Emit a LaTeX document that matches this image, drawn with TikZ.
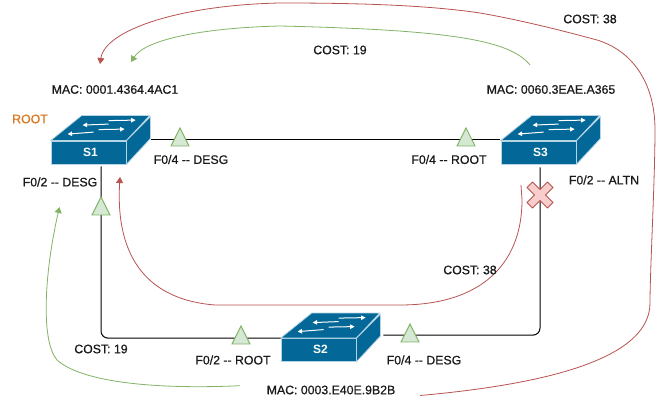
\documentclass[tikz,border=0pt]{standalone}
\usepackage{fontspec}
\setmainfont{Liberation Sans}
\newfontfamily\lblfont[FakeBold=0.6,Ligatures=NoCommon]{Liberation Sans}
\usetikzlibrary{arrows.meta,calc,shapes.geometric}
\definecolor{swblue}{HTML}{036897}
\definecolor{swline}{HTML}{B5D5E5}
\definecolor{gfill}{HTML}{D5E8D4}
\definecolor{gline}{HTML}{82B366}
\definecolor{rfill}{HTML}{F8CECC}
\definecolor{rline}{HTML}{B85450}
\definecolor{rootc}{HTML}{D9761E}
\tikzset{
  x=1pt,y=-1pt,
  lbl/.style={font=\lblfont\fontsize{12.3}{14}\selectfont,text=black!90,inner sep=0pt,anchor=center},
  front/.style={draw=swline,fill=swblue,line width=.8pt,minimum width=75pt,minimum height=23pt,inner sep=0pt,text=white,font=\fontsize{12}{14}\bfseries\selectfont},
  swshape/.style={draw=swline,fill=swblue,line width=.8pt,line join=round},
  wire/.style={draw=black,line width=1pt,rounded corners=7pt},
  tri/.style={draw=gline,fill=gfill,line width=.9pt,isosceles triangle,isosceles triangle stretches,shape border rotate=90,minimum width=18pt,minimum height=18pt,inner sep=0pt,outer sep=0pt,anchor=apex},
  rcurve/.style={draw=rline,line width=.8pt,-{Triangle[length=6pt,width=7pt]}},
  gcurve/.style={draw=gline,line width=.8pt,-{Triangle[length=6pt,width=7pt]}},
  arrowm/.style={draw=white,line width=1pt,-{Triangle[length=4.5pt,width=4.5pt]}}
}
\newcommand{\swdraw}[4]{% name, centre x, centre y, label
  \node[front] (#1) at (#2,#3) {\raisebox{.7pt}{\hspace*{4pt}#4}};
  \path[swshape] (#1.north west) -- ++(31,-25) -- ++(68,0) -- (#1.north east) -- cycle;
  \path[swshape] (#1.north east) -- ++(24,-24) -- ++(0,22) -- (#1.south east) -- cycle;
  \draw[arrowm] ($(#1.north west)+(58,-20)$) -- ++(27,-.5);
  \draw[arrowm] ($(#1.north west)+(58,-16.5)$) -- ++(-26,1);
  \draw[arrowm] ($(#1.north west)+(48,-11)$) -- ++(26,-.5);
  \draw[arrowm] ($(#1.north west)+(43,-8.5)$) -- ++(-26,2);
}
\newcommand{\dd}{{-}{-}}
\begin{document}
\begin{tikzpicture}
\useasboundingbox (0,0) rectangle (657,406);
\fill[white] (0,0) rectangle (657,406);
% switches
\swdraw{S1}{88.5}{152.5}{S1}
\swdraw{S3}{538.5}{152.5}{S3}
\swdraw{S2}{318.5}{350}{S2}
% connector ends
\coordinate (S1r) at ($(S1.north east)+(25,-1)$);
\coordinate (S3l) at ($(S3.north west)+(-1,-1)$);
\coordinate (S1b) at ($(S1.south)+(12.5,2)$);
\coordinate (S3b) at ($(S3.south)+(1.5,3)$);
\coordinate (S2l) at (S2.north west);
\coordinate (S2r) at ($(S2.north east)+(27,-3)$);
% wires
\draw[wire] (S1r) -- (S3l);
\draw[wire] (S1b) |- (S2l);
\draw[wire] (S3b) |- (S2r);
% triangles
\node[tri] (t1) at (180,128) {};
\node[tri] (t2) at (466,128) {};
\node[tri] (t3) at (101,197) {};
\node[tri] (t4) at (241,326) {};
\node[tri] (t5) at (410,324) {};
% cross
\path[draw=rline,fill=rfill,line width=.8pt,line join=round,shift={(540,195)}]
  (0,-5.5) -- (7.5,-13) -- (13,-7.5) -- (5.5,0) -- (13,7.5) -- (7.5,13) -- (0,5.5)
  -- (-7.5,13) -- (-13,7.5) -- (-5.5,0) -- (-13,-7.5) -- (-7.5,-13) -- cycle;
% curves
\coordinate (rA) at (420,395.5);
\coordinate (rB) at (100,64);
\draw[rcurve] (rA) .. controls (560,383) and (650,355) .. (650,303)
  .. controls (650,270) and (655,180) .. (655,130)
  .. controls (655,80) and (630,50) .. (597,40)
  .. controls (560,30) and (520,20) .. (480,13)
  .. controls (420,4) and (340,3) .. (280,3)
  .. controls (180,5) and (105,30) .. (rB);
\coordinate (gA) at (530,65);
\coordinate (gB) at (131,62);
\draw[gcurve] (gA) .. controls (510,40) and (450,30) .. (280,26)
  .. controls (200,28) and (145,40) .. (gB);
\coordinate (iA) at (521,185);
\coordinate (iB) at (120,177);
\draw[rcurve] (iA) -- (522,200) .. controls (522,265) and (480,305) .. (400,305)
  -- (215,305) .. controls (150,300) and (115,260) .. (iB);
\coordinate (lA) at (240,385.7);
\coordinate (lB) at (59.5,207);
\draw[gcurve] (lA) .. controls (170,389) and (85,385) .. (57,360)
  .. controls (40,340) and (45,270) .. (lB);
% labels
\node[lbl,text=rootc] (root) at (30,119) {ROOT};
\node[lbl] (m1) at (115,89.5) {MAC: 0001.4364.4AC1};
\node[lbl] (m3) at (551,89.5) {MAC: 0060.3EAE.A365};
\node[lbl] (m2) at (331,390) {MAC: 0003.E40E.9B2B};
\node[lbl] (p1) at (191,159.5) {F0/4 \dd{} DESG};
\node[lbl] (p2) at (60,182) {F0/2 \dd{} DESG};
\node[lbl] (p3) at (449,159.5) {F0/4 \dd{} ROOT};
\node[lbl] (p4) at (604,180) {F0/2 \dd{} ALTN};
\node[lbl] (p5) at (233,360) {F0/2 \dd{} ROOT};
\node[lbl] (p6) at (424,360) {F0/4 \dd{} DESG};
\node[lbl] (c1) at (340,50) {COST: 19};
\node[lbl] (c2) at (590,19) {COST: 38};
\node[lbl] (c3) at (470,270) {COST: 38};
\node[lbl] (c4) at (101,349) {COST: 19};
\end{tikzpicture}
\end{document}
